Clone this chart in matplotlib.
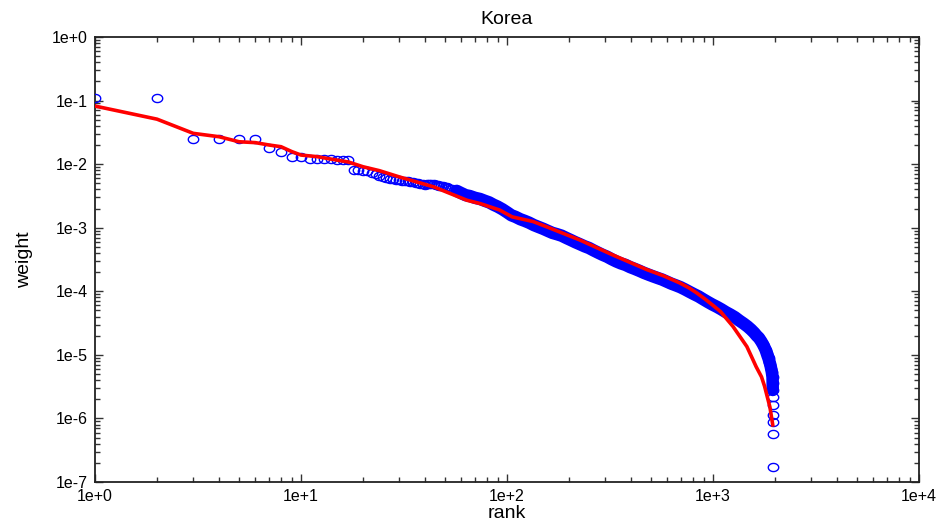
import numpy as np
import matplotlib
matplotlib.use("Agg")
import matplotlib.pyplot as plt
from matplotlib.path import Path
from matplotlib.ticker import LogLocator, FuncFormatter, NullFormatter

plt.rcParams['font.family'] = ['Liberation Sans', 'DejaVu Sans']

# observed weights by rank (blue circles)
rank_obs = [1, 2, 3, 4, 5, 6, 7, 8, 9, 10,
            11, 12, 13, 14, 15, 16, 17, 18, 19, 20,
            21, 22, 23, 24, 25, 26, 27, 28, 29, 30,
            31, 32, 33, 34, 35, 36, 37, 38, 39, 40,
            41, 42, 43, 44, 45, 46, 47, 48, 49, 50,
            51, 52, 53, 54, 55, 57, 60, 63,
            66, 70, 74, 78, 82, 86, 90, 95, 100, 105,
            110, 116, 122, 128, 135, 142, 150, 158, 166, 175,
            184, 194, 204, 215, 226, 238, 250, 263, 277, 291,
            306, 322, 339, 357, 376, 396, 417, 439, 462, 486,
            511, 538, 566, 596, 627, 660, 695, 731, 769, 809,
            851, 896, 943, 992, 1044, 1098, 1155, 1215, 1278, 1344,
            1410, 1470, 1530, 1580, 1630, 1670, 1710, 1740, 1770, 1800,
            1820, 1840, 1860, 1880, 1900, 1915, 1930,
            1945, 1948, 1950, 1952, 1954, 1956, 1957, 1958, 1959]
weight_obs = [0.11, 0.11, 0.025, 0.025, 0.025, 0.025, 0.018, 0.0154, 0.0131, 0.0129,
              0.0122, 0.0121, 0.0120, 0.0120, 0.0118, 0.0117, 0.0117, 0.0081, 0.0080, 0.0079,
              0.0077, 0.0073, 0.0069, 0.0066, 0.0062, 0.0060, 0.0059, 0.0058, 0.0057, 0.0056,
              0.0055, 0.0055, 0.0054, 0.0053, 0.0052, 0.0051, 0.0050, 0.0049, 0.0048, 0.0047,
              4.9e-3, 4.9e-3, 4.85e-3, 4.8e-3, 4.7e-3, 4.65e-3, 4.6e-3, 4.5e-3, 4.45e-3, 4.4e-3,
              4.3e-3, 4.2e-3, 4.1e-3, 4.0e-3, 3.9e-3, 3.8e-3, 3.5e-3, 3.25e-3,
              3.15e-3, 2.95e-3, 2.83e-3, 2.65e-3, 2.5e-3, 2.3e-3, 2.15e-3, 1.95e-3, 1.75e-3, 1.57e-3,
              1.48e-3, 1.36e-3, 1.28e-3, 1.2e-3, 1.1e-3, 1.03e-3, 9.6e-4, 8.9e-4, 8.3e-4, 7.9e-4,
              7.5e-4, 6.9e-4, 6.4e-4, 5.9e-4, 5.5e-4, 5.1e-4, 4.8e-4, 4.4e-4, 4.05e-4, 3.75e-4,
              3.5e-4, 3.2e-4, 2.95e-4, 2.75e-4, 2.6e-4, 2.4e-4, 2.25e-4, 2.1e-4, 1.95e-4, 1.83e-4,
              1.72e-4, 1.62e-4, 1.53e-4, 1.42e-4, 1.32e-4, 1.24e-4, 1.16e-4, 1.07e-4, 9.8e-5, 9.0e-5,
              8.3e-5, 7.5e-5, 6.8e-5, 6.2e-5, 5.7e-5, 5.2e-5, 4.7e-5, 4.3e-5, 3.9e-5, 3.45e-5,
              3.1e-5, 2.8e-5, 2.5e-5, 2.25e-5, 2.0e-5, 1.85e-5, 1.65e-5, 1.5e-5, 1.35e-5, 1.2e-5,
              1.08e-5, 9.7e-6, 8.8e-6, 7.8e-6, 6.9e-6, 6.1e-6, 5.4e-6,
              4.5e-6, 3.6e-6, 2.8e-6, 2.2e-6, 1.63e-6, 1.13e-6, 8.8e-7, 5.7e-7, 1.7e-7]

# fitted curve (red line)
rank_fit = [1, 2, 3, 4, 5, 6, 7, 8, 9, 10, 12, 14, 17, 20, 24, 30, 44, 64, 74, 92,
            106, 134, 155, 226, 328, 476, 573, 691, 765, 831, 912, 1000, 1087, 1250,
            1460, 1540, 1620, 1720, 1780, 1890, 1950]
weight_fit = [0.082, 0.051, 0.0305, 0.027, 0.0225, 0.0218, 0.020, 0.0188, 0.0158, 0.0139,
              0.0131, 0.0120, 0.0108, 0.0091, 0.0079, 0.0063, 0.0044, 0.0027, 0.0024, 0.0019,
              1.48e-3, 1.25e-3, 1.04e-3, 6.4e-4, 3.7e-4, 2.2e-4, 1.76e-4, 1.35e-4, 1.13e-4,
              9.5e-5, 7.6e-5, 6.0e-5, 4.8e-5, 2.8e-5,
              1.35e-5, 9.3e-6, 6.5e-6, 4.5e-6, 3.2e-6, 1.5e-6, 7.9e-7]

# slightly flattened open circle
t = np.linspace(0, 2 * np.pi, 60)
ellipse = Path(np.column_stack([np.cos(t), 0.78 * np.sin(t)]), closed=True)

fig = plt.figure(figsize=(9.43, 5.27), dpi=100)
ax = fig.add_axes([95 / 943, 1 - 482 / 527, (919 - 95) / 943, (482 - 37) / 527])

r = np.array(rank_obs)
w = np.array(weight_obs)
# where circles overlap into a solid band
dense = (r >= 57) & (w >= 2.8e-6)
ax.plot(r[dense], w[dense], color='blue', linewidth=9.0,
        solid_capstyle='round', solid_joinstyle='round', zorder=2)
ax.plot(r, w, linestyle='none', marker=ellipse, markersize=7.5,
        markerfacecolor='none', markeredgecolor='blue', markeredgewidth=1.0, zorder=3)
ax.plot(rank_fit, weight_fit, color='red', linewidth=2.6, zorder=4)

ax.set_xscale('log')
ax.set_yscale('log')
ax.set_xlim(1, 1e4)
ax.set_ylim(1e-7, 1)

exp_fmt = FuncFormatter(lambda v, pos: f"1e{int(round(np.log10(v))):+d}")
ax.xaxis.set_major_locator(LogLocator(base=10, numticks=10))
ax.yaxis.set_major_locator(LogLocator(base=10, numticks=10))
ax.xaxis.set_minor_locator(LogLocator(base=10, subs=np.arange(2, 10), numticks=20))
ax.yaxis.set_minor_locator(LogLocator(base=10, subs=np.arange(2, 10), numticks=20))
ax.xaxis.set_major_formatter(exp_fmt)
ax.yaxis.set_major_formatter(exp_fmt)
ax.xaxis.set_minor_formatter(NullFormatter())
ax.yaxis.set_minor_formatter(NullFormatter())

ax.tick_params(which='both', direction='in', top=True, right=True, labelsize=11.5,
               width=1.0, color='#333333', pad=5)
ax.tick_params(which='major', length=6)
ax.tick_params(which='minor', length=3.5)
for s in ax.spines.values():
    s.set_linewidth(1.3)
    s.set_color('#222222')

ax.set_title('Korea', fontsize=14, pad=9)
ax.set_xlabel('rank', fontsize=14, labelpad=1)
ax.set_ylabel('weight', fontsize=14, labelpad=14)

fig.savefig('out.png', dpi=100)
